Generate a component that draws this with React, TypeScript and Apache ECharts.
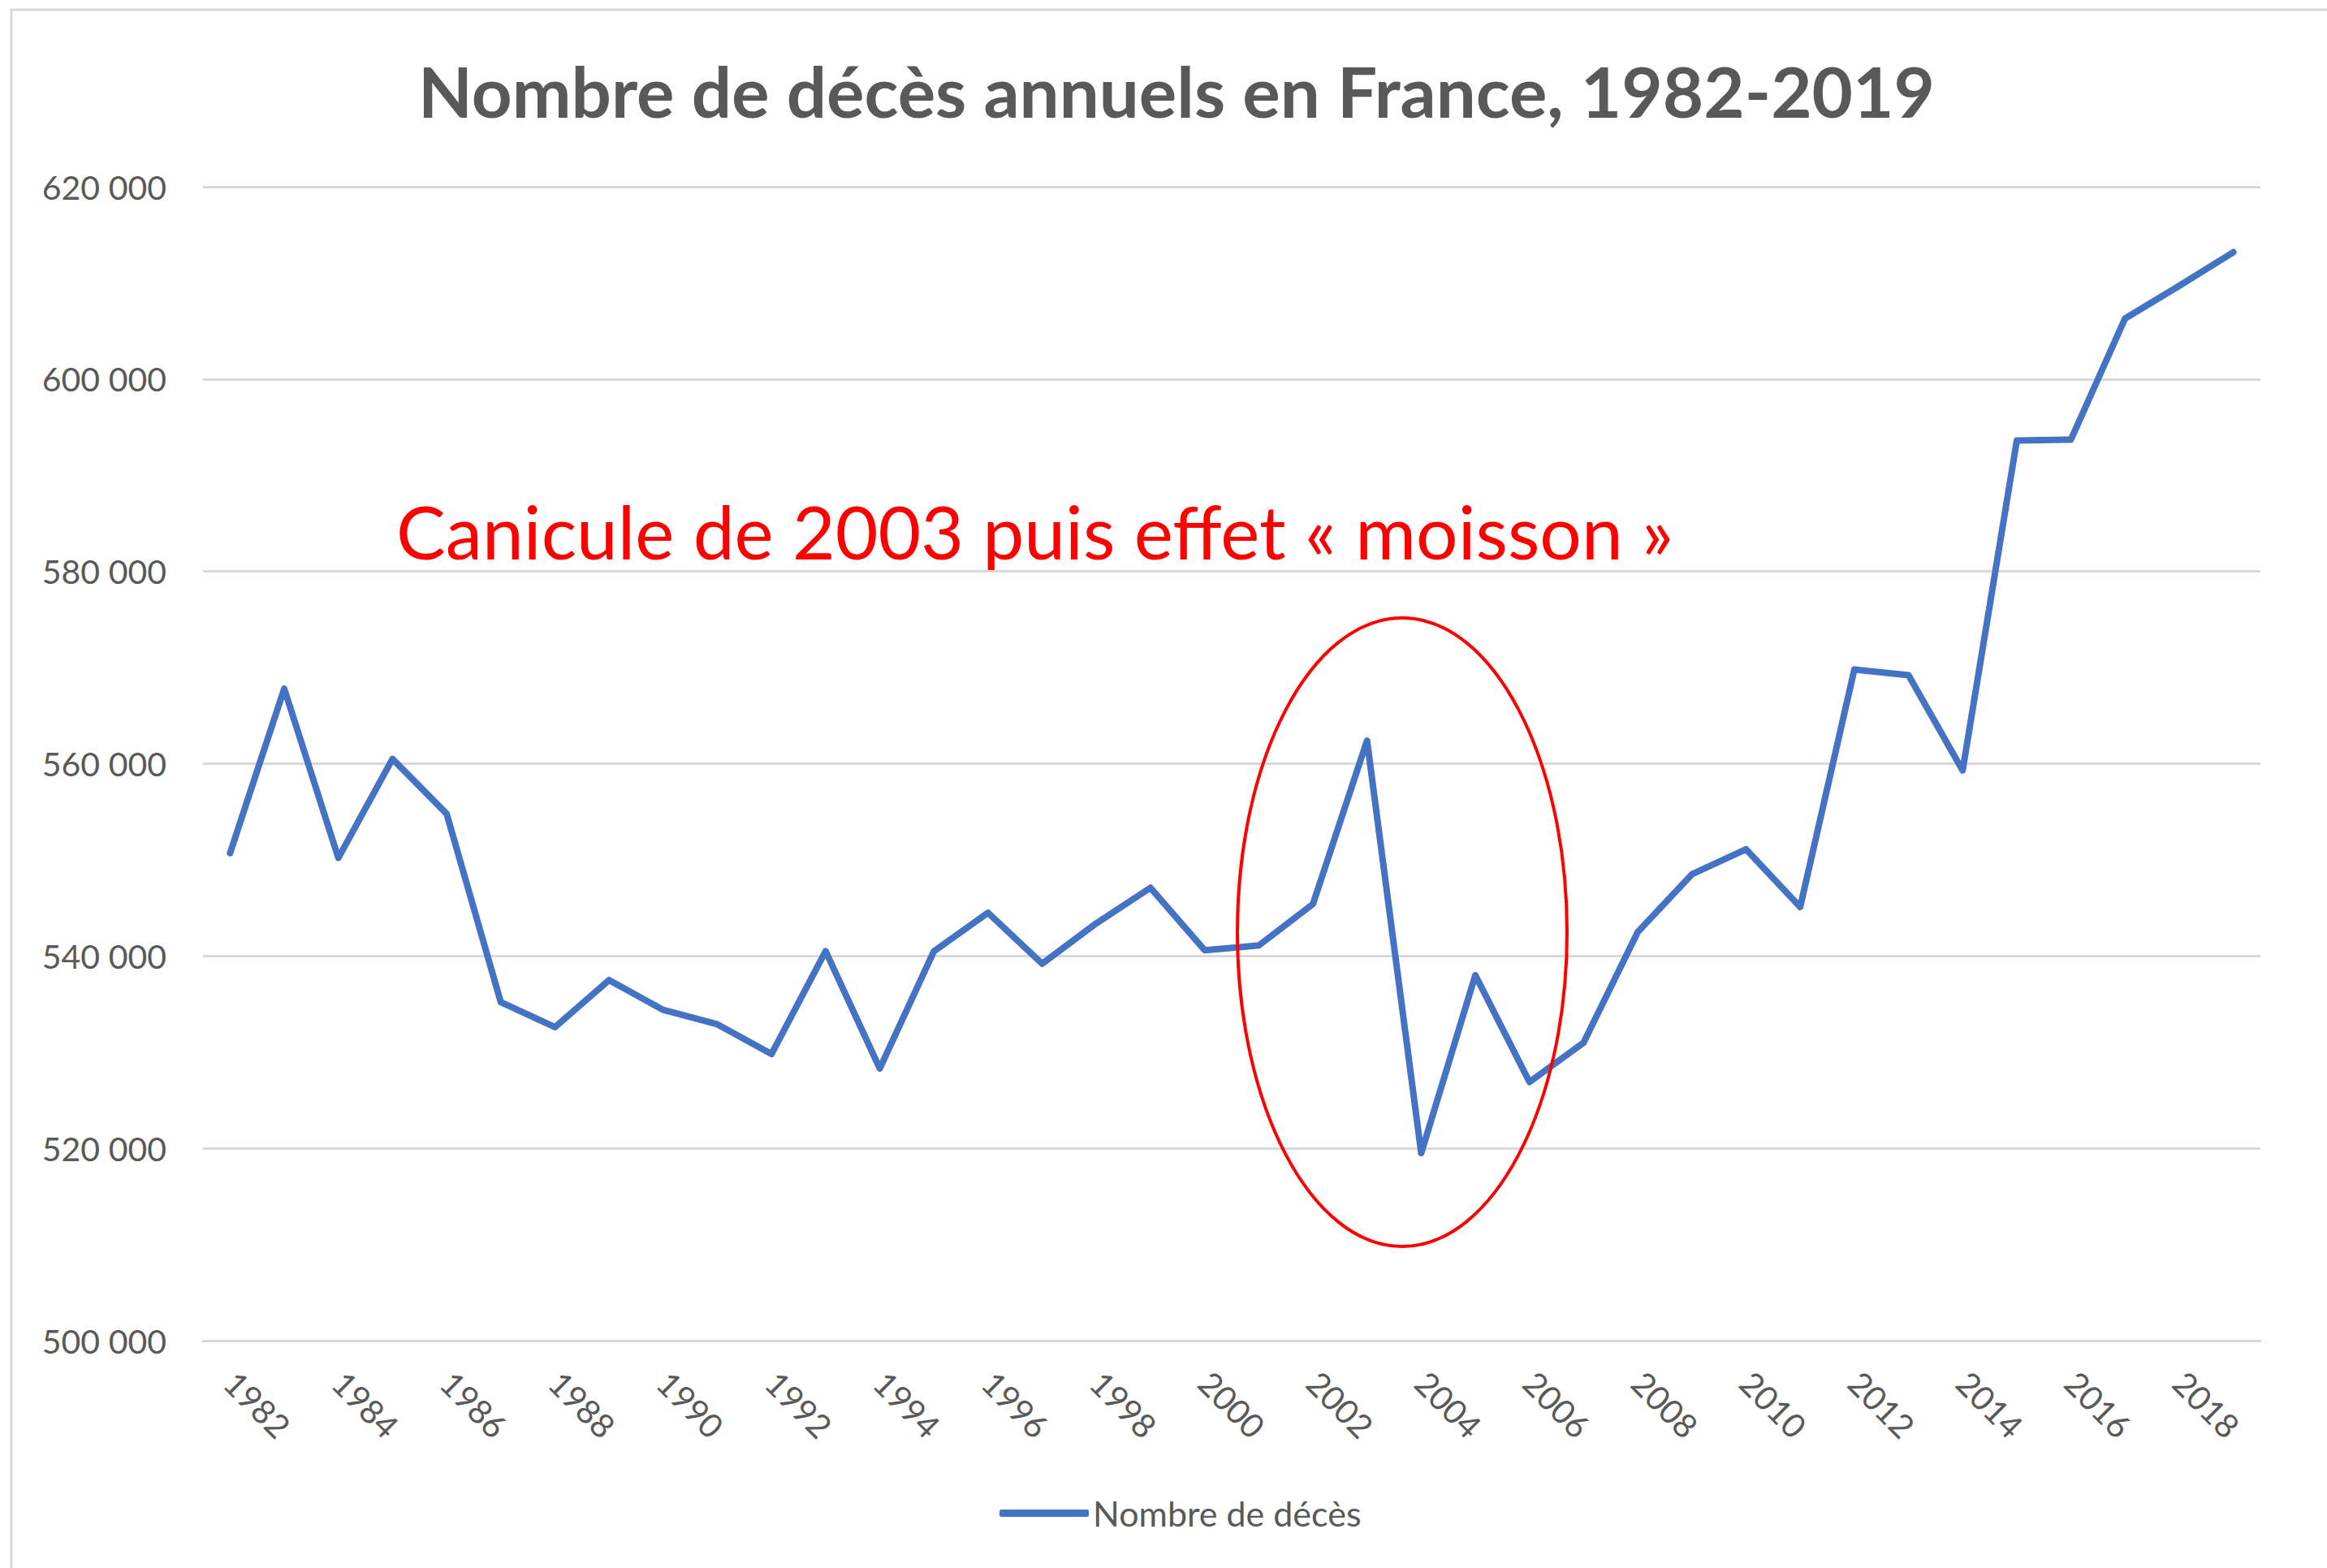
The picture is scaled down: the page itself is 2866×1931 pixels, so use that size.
import React, { useEffect, useRef } from "react";
import * as echarts from "echarts";

const years: string[] = [
  "1982", "1983", "1984", "1985", "1986", "1987", "1988", "1989", "1990", "1991",
  "1992", "1993", "1994", "1995", "1996", "1997", "1998", "1999", "2000", "2001",
  "2002", "2003", "2004", "2005", "2006", "2007", "2008", "2009", "2010", "2011",
  "2012", "2013", "2014", "2015", "2016", "2017", "2018", "2019",
];

const deaths: number[] = [
  550700, 567800, 550200, 560500, 554800, 535200, 532600, 537500, 534400, 532900,
  529800, 540500, 528300, 540500, 544500, 539200, 543400, 547100, 540600, 541100,
  545400, 562400, 519500, 538000, 526900, 531000, 542500, 548500, 551100, 545100,
  569800, 569200, 559300, 593600, 593700, 606300, 609700, 613200,
];

const seriesName = "Nombre de décès";
const titleText = "Nombre de décès annuels en France, 1982-2019";
const annotationText = "Canicule de 2003 puis effet « moisson »";
const yMin = 500000;
const yMax = 620000;
const yInterval = 20000;

const FONT = "Lato, 'Open Sans', 'Noto Sans', sans-serif";
const GRAY = "#595959";
const GRID = "#d9d9d9";

const fmt = (v: number) => String(v).replace(/\B(?=(\d{3})+(?!\d))/g, " ");

export default function App() {
  const ref = useRef<HTMLDivElement>(null);
  useEffect(() => {
    if (!ref.current) return;
    const chart = echarts.init(ref.current, undefined, { renderer: "svg" });
    chart.setOption({
      animation: false,
      backgroundColor: "#ffffff",
      grid: { left: 250, right: 82, top: 230, bottom: 280, containLabel: false },
      xAxis: {
        type: "category",
        data: years,
        boundaryGap: true,
        axisLine: { show: true, lineStyle: { color: GRID, width: 3 } },
        axisTick: { show: false },
        axisLabel: {
          interval: 1,
          rotate: -45,
          margin: 45,
          color: GRAY,
          fontFamily: FONT,
          fontSize: 41,
        },
      },
      yAxis: {
        type: "value",
        min: yMin,
        max: yMax,
        interval: yInterval,
        axisLine: { show: false },
        axisTick: { show: false },
        splitLine: { show: true, lineStyle: { color: GRID, width: 3 } },
        axisLabel: {
          margin: 45,
          color: GRAY,
          fontFamily: FONT,
          fontSize: 41,
          formatter: (v: number) => fmt(v),
        },
      },
      legend: {
        data: [{ name: seriesName, icon: "roundRect" }],
        left: 1226,
        top: 1837,
        itemWidth: 110,
        itemHeight: 9,
        textStyle: { color: GRAY, fontFamily: FONT, fontSize: 43 },
      },
      series: [
        {
          name: seriesName,
          type: "line",
          data: deaths,
          showSymbol: false,
          symbol: "none",
          color: "#4472C4",
          lineStyle: { color: "#4472C4", width: 8, cap: "round", join: "round" },
        },
      ],
      graphic: [
        {
          type: "rect",
          shape: { x: 14, y: 12, width: 3000, height: 2100 },
          style: { fill: "none", stroke: GRID, lineWidth: 3 },
          silent: true,
        },
        {
          type: "text",
          x: 1449,
          y: 111,
          style: {
            text: titleText,
            fill: GRAY,
            font: `bold 87px ${FONT}`,
            textAlign: "center",
            textVerticalAlign: "middle",
          },
        },
        {
          type: "text",
          x: 488,
          y: 653,
          style: {
            text: annotationText,
            fill: "#ff0000",
            font: `91px ${FONT}`,
            textAlign: "left",
            textVerticalAlign: "middle",
          },
        },
        {
          type: "ellipse",
          shape: { cx: 1727, cy: 1148, rx: 203, ry: 387 },
          style: { fill: "none", stroke: "#ff0000", lineWidth: 4 },
          z: 100,
        },
      ],
    });
    return () => chart.dispose();
  }, []);
  return (
    <div
      ref={ref}
      style={{ position: "absolute", left: 0, top: 0, width: 2866, height: 1931 }}
    />
  );
}
